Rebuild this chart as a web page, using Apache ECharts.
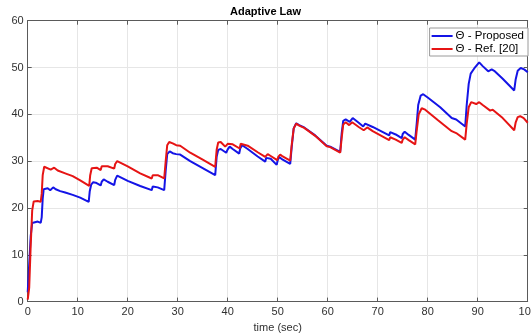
<!DOCTYPE html>
<html>
<head>
<meta charset="utf-8">
<script src="https://cdn.jsdelivr.net/npm/echarts@6/dist/echarts.min.js"></script>
<style>
html,body{margin:0;padding:0;background:#fff;}
#chart{width:531px;height:333px;}
</style>
</head>
<body>
<div id="chart"></div>
<script>
// time (sec) and adaptive law values
var tProposed = [0,0.3,0.6,0.9,1.2,2.0,2.6,2.8,3.0,3.2,3.5,4.0,4.5,4.8,5.1,5.6,6.5,7.5,9.0,10.5,12.2,12.4,12.7,13.1,13.6,14.6,14.8,15.2,16.0,17.3,17.5,17.9,18.5,20.0,22.5,24.8,25.0,25.4,26.0,27.3,27.6,27.9,28.4,29.0,29.7,30.1,30.5,32.5,35,37.5,37.8,38.1,38.6,39.7,40.0,40.4,41.0,42.3,42.5,42.9,44,46,47.5,47.7,48.0,48.6,49.8,50.0,50.3,51.0,52.5,52.8,53.2,53.7,54.3,55.3,55.6,57.5,59.8,60.5,62.5,62.8,63.1,63.6,64.4,65.0,65.4,66.2,67.1,67.5,67.9,69,72.3,72.5,72.9,73.6,74.8,75.0,75.4,76.2,77.5,77.8,78.1,78.6,79.1,80.0,82.5,84.8,85.2,85.7,87.5,87.8,88.2,88.6,89.3,90.3,91.0,92.1,92.8,93.3,95.0,97.3,97.6,98.0,98.6,99.3,100];
var vProposed = [2,8,14,16.8,17.2,17.1,16.8,18,22,24.0,24.4,24.2,23.8,24.0,24.4,24.0,23.6,23.3,22.8,22.2,21.3,23.5,25.0,25.5,25.4,24.8,25.6,26.1,25.6,24.9,26.0,26.9,26.6,25.8,24.7,23.8,24.6,24.9,24.4,23.8,28,31.5,32.1,31.7,31.5,31.8,31.4,30.0,28.5,27.0,31.0,32.4,32.6,31.8,32.5,33.1,32.6,31.6,32.7,33.4,32.6,31.0,29.9,30.7,31.1,30.5,29.2,30.2,30.9,30.3,29.4,33,37,38.1,37.7,37.2,37.3,35.5,33.3,33.1,32.0,36,38.6,38.9,38.4,39.2,39.1,38.2,37.4,38.0,38.2,37.3,35.5,36.2,36.3,35.7,34.9,35.8,36.3,35.6,34.6,38,42,44.0,44.3,43.6,41.5,39.2,39.4,38.9,37.4,42,46.5,48.7,49.8,51.1,50.3,49.2,49.6,49.3,47.6,45.1,47.5,49.3,49.9,49.6,49.0];

var tRef = [0,0.3,0.6,0.9,1.2,2.0,2.6,2.8,3.0,3.3,3.7,4.6,5.0,5.3,6.0,7.5,9.0,10.5,12.3,12.5,12.8,13.2,13.8,14.6,14.8,15.2,16.0,17.3,17.5,17.9,18.5,20.0,22.5,24.8,25.0,25.4,26.0,27.3,27.6,27.9,28.3,29.0,29.7,30.1,30.5,32.5,35,37.5,37.8,38.1,38.6,39.5,40.0,40.4,41.0,42.4,42.6,43.0,44,46,47.5,47.7,48.0,48.6,49.9,50.1,50.5,51.0,52.5,52.8,53.2,53.7,54.3,55.3,55.6,57.5,59.8,60.5,62.5,62.8,63.1,63.6,64.3,64.9,65.3,66.2,67.2,67.5,67.9,69,72.3,72.5,72.9,73.6,74.8,75.0,75.4,76.2,77.5,77.8,78.2,78.8,79.5,82,84.8,85.2,85.7,87.5,87.8,88.2,88.7,89.1,89.7,90.3,91.0,92.5,93.0,93.4,95.0,97.3,97.6,98.0,98.5,99.2,100];
var vRef = [0.4,3,12,19.5,21.4,21.5,21.3,23,27,28.8,28.9,28.2,28.6,28.6,28.0,27.4,26.8,25.9,24.7,27.0,28.5,28.8,28.6,28.1,28.9,29.3,28.9,28.4,29.4,30.0,29.7,28.9,27.4,26.3,27.0,27.4,27.0,26.3,30,33.4,34.1,33.8,33.4,33.6,33.3,31.8,30.3,28.8,32.5,34.0,34.1,33.1,33.7,34.1,33.6,32.7,33.7,34.1,33.3,31.9,30.9,31.3,31.5,31.1,30.2,30.9,31.4,31.0,30.1,33.5,37,38.0,37.6,37.1,37.2,35.4,33.2,33.0,31.8,35,37.8,38.3,37.7,38.3,38.3,37.3,36.6,37.0,37.2,36.4,34.5,35.1,35.2,34.6,33.9,34.6,35.1,34.5,33.6,36.5,40,41.3,41.0,38.8,36.4,36.5,36.0,34.6,38,41.5,42.6,42.7,42.2,42.6,42.0,40.8,41.0,40.7,39.2,36.6,38.3,39.4,39.6,39.2,38.2];

var seriesNames = ['\u0398 - Proposed', '\u0398 - Ref. [20]'];

function pairs(t, v) {
    var out = [];
    for (let i = 0; i < t.length; i++) {
        out.push([t[i], v[i]]);
    }
    return out;
}

var dom = document.getElementById('chart');
var myChart = echarts.init(dom);
var font = 'Liberation Sans, Arial, sans-serif';
var axisCol = '#5a5a5a';
var labelCol = '#303030';

var option = {
    animation: false,
    title: {
        text: 'Adaptive Law',
        left: 'center',
        top: 1,
        textStyle: { fontSize: 11, fontWeight: 'bold', color: '#000', fontFamily: font }
    },
    legend: {
        data: seriesNames,
        orient: 'vertical',
        right: 3,
        top: 28,
        icon: 'rect',
        itemWidth: 21,
        itemHeight: 2,
        itemGap: 1,
        padding: [2, 4, 1, 2],
        borderColor: '#9a9a9a',
        borderWidth: 1,
        backgroundColor: '#fff',
        textStyle: { fontSize: 11.5, lineHeight: 12, color: '#000', fontFamily: font, padding: [0, 0, 0, -2] }
    },
    grid: {
        left: 27.7,
        right: 3.3,
        top: 20.7,
        bottom: 31.4,
        containLabel: false,
        outerBoundsMode: 'none'
    },
    xAxis: [{
        type: 'value',
        min: 0,
        max: 100,
        interval: 10,
        name: 'time (sec)',
        nameLocation: 'middle',
        nameGap: 20,
        nameTextStyle: { fontSize: 11, color: labelCol, fontFamily: font },
        axisLine: { onZero: false, lineStyle: { color: axisCol } },
        axisTick: { inside: true, length: 4, lineStyle: { color: axisCol } },
        axisLabel: { fontSize: 11, color: labelCol, fontFamily: font, margin: 5, hideOverlap: false },
        splitLine: { show: true, lineStyle: { color: '#e6e6e6' } }
    }, {
        type: 'value',
        position: 'top',
        min: 0,
        max: 100,
        interval: 10,
        axisLine: { show: true, onZero: false, lineStyle: { color: axisCol } },
        axisTick: { show: true, inside: true, length: 4, lineStyle: { color: axisCol } },
        axisLabel: { show: false },
        splitLine: { show: false }
    }],
    yAxis: [{
        type: 'value',
        min: 0,
        max: 60,
        interval: 10,
        axisLine: { show: true, onZero: false, lineStyle: { color: axisCol } },
        axisTick: { show: true, inside: true, length: 4, lineStyle: { color: axisCol } },
        axisLabel: { fontSize: 11, color: labelCol, fontFamily: font, margin: 4 },
        splitLine: { show: true, lineStyle: { color: '#e6e6e6' } }
    }, {
        type: 'value',
        position: 'right',
        min: 0,
        max: 60,
        interval: 10,
        axisLine: { show: true, onZero: false, lineStyle: { color: axisCol } },
        axisTick: { show: true, inside: true, length: 4, lineStyle: { color: axisCol } },
        axisLabel: { show: false },
        splitLine: { show: false }
    }],
    series: [{
        name: seriesNames[0],
        type: 'line',
        data: pairs(tProposed, vProposed),
        showSymbol: false,
        symbol: 'none',
        lineStyle: { color: '#1414e6', width: 2 },
        itemStyle: { color: '#1414e6' }
    }, {
        name: seriesNames[1],
        type: 'line',
        data: pairs(tRef, vRef),
        showSymbol: false,
        symbol: 'none',
        lineStyle: { color: '#e61414', width: 2 },
        itemStyle: { color: '#e61414' }
    }]
};

myChart.setOption(option);
</script>
</body>
</html>
